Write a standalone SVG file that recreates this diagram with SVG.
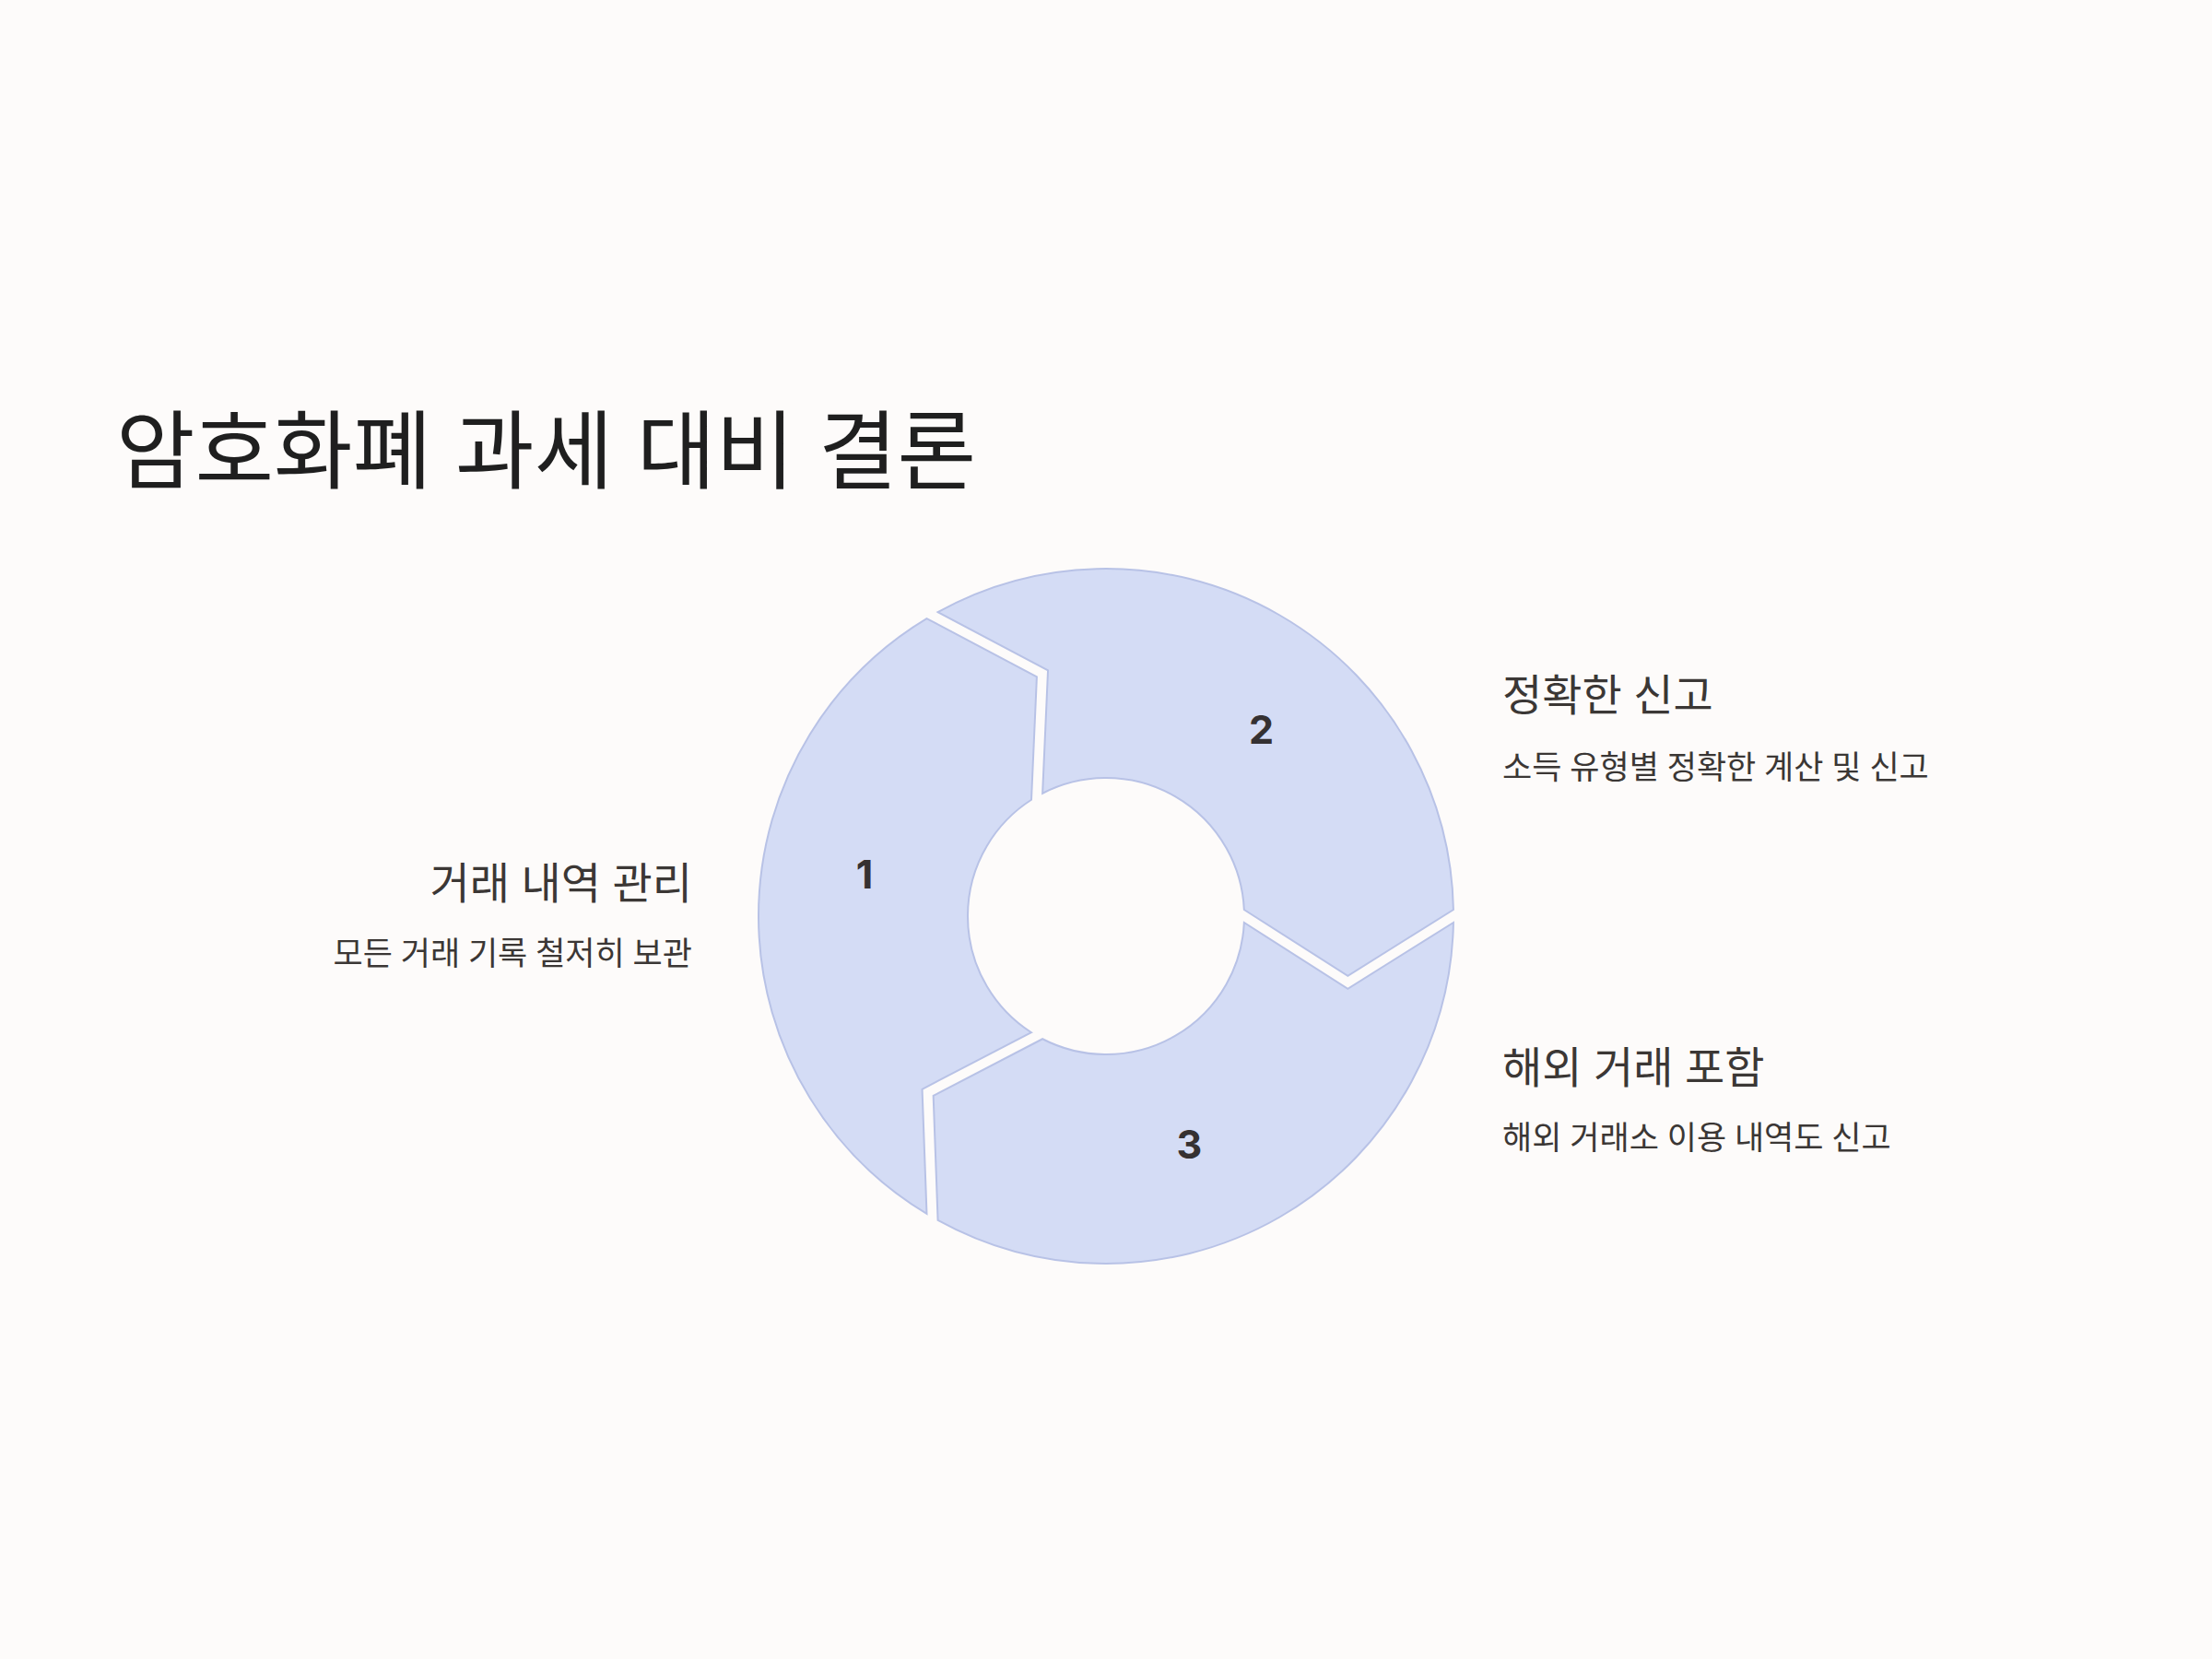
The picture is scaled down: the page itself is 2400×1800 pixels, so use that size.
<svg xmlns="http://www.w3.org/2000/svg" width="2400" height="1800" viewBox="0 0 2400 1800">
<style>
.bg{fill:#fdfbfa}
.seg{fill:#d4dcf5;stroke:#b8c2e6;stroke-width:2;stroke-linejoin:miter}
.num{font-family:Inter,"Noto Sans",sans-serif;font-weight:700;font-size:43px;fill:#353132;text-anchor:middle}
.title{font-family:"Noto Sans CJK KR","Noto Sans",sans-serif;font-size:93px;word-spacing:5px;fill:#1f1f1f}
.lbl{font-family:"Noto Sans CJK KR","Noto Sans",sans-serif;font-size:47px;word-spacing:2px;fill:#3b3735}
.sub{font-family:"Noto Sans CJK KR","Noto Sans",sans-serif;font-size:35px;word-spacing:1px;fill:#3b3735}
.end{text-anchor:end}
</style>
<rect class="bg" x="0" y="0" width="2400" height="1800"/>
<text class="title" x="126" y="523">암호화폐 과세 대비 결론</text>
<g id="connectors"></g>
<g id="seg1">
<path class="seg" d="M1005.49,1316.95 A377,377 0 0 1 1005.49,671.05 L1124.92,734.40 L1119.01,867.74 A150,150 0 0 0 1119.01,1120.26 L1000.55,1181.77 Z"/>
<text class="num" x="938" y="964">1</text>
</g>
<g id="seg2">
<path class="seg" d="M1017.57,664.08 A377,377 0 0 1 1576.94,987.0 L1462.36,1058.77 L1349.84,987.0 A150,150 0 0 0 1131.13,860.75 L1137.04,727.40 Z"/>
<text class="num" x="1368.5" y="806.5">2</text>
</g>
<g id="seg3">
<path class="seg" d="M1576.94,1001.0 A377,377 0 0 1 1017.57,1323.92 L1012.67,1188.77 L1131.13,1127.25 A150,150 0 0 0 1349.84,1001.0 L1462.36,1072.77 Z"/>
<text class="num" x="1290.5" y="1257">3</text>
</g>
<g id="label1">
<text class="lbl end" x="751" y="974.5">거래 내역 관리</text>
<text class="sub end" x="751" y="1046.5">모든 거래 기록 철저히 보관</text>
</g>
<g id="label2">
<text class="lbl" x="1630" y="770.5">정확한 신고</text>
<text class="sub" x="1630" y="845">소득 유형별 정확한 계산 및 신고</text>
</g>
<g id="label3">
<text class="lbl" x="1630" y="1175">해외 거래 포함</text>
<text class="sub" x="1630" y="1246.5">해외 거래소 이용 내역도 신고</text>
</g>
</svg>
